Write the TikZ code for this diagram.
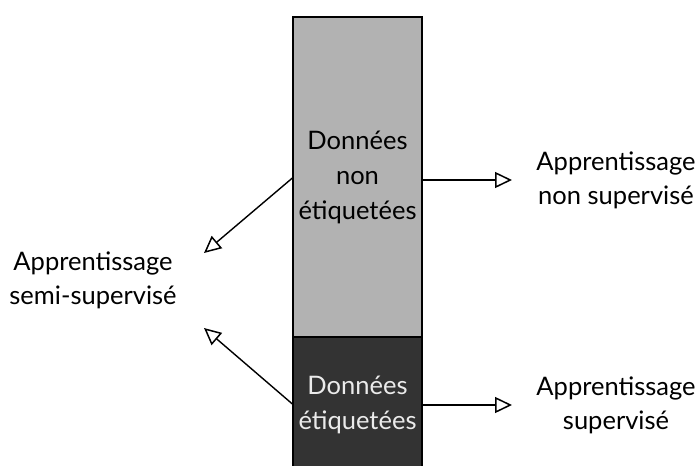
\documentclass[tikz,border=0pt]{standalone}
\usepackage{fontspec}
\setmainfont{Lato}
\usetikzlibrary{arrows.meta}
\begin{document}
\begin{tikzpicture}[x=1pt,y=-1pt,
  databox/.style={draw=black, line width=1.2pt, minimum width=129pt, inner sep=0pt, align=center, font=\fontsize{25.5}{35}\selectfont},
  lbl/.style={align=center, inner sep=0pt, font=\fontsize{25.5}{34}\selectfont},
  link/.style={line width=1.4pt, -{Triangle[open, length=17pt, width=16pt, line width=1.5pt]}}]
  \useasboundingbox (0,0) rectangle (699,466);
  % the two stacked data blocks
  \node[databox, fill=black!30, minimum height=320pt] (unl) at (357.5,177) {Données\\non\\étiquetées};
  \node[databox, fill=black!80, text=white!92!black, minimum height=136pt] (lab) at (357.5,405) {Données\\étiquetées};
  % learning paradigms
  \node[lbl] (uns) at (616,180) {Apprentissage\\non supervisé};
  \node[lbl] (sup) at (616,405) {Apprentissage\\supervisé};
  \node[lbl] (semi) at (93,280) {Apprentissage\\semi-supervisé};
  % arrow tips
  \coordinate (tu) at (512,180);
  \coordinate (ts) at (512,405);
  \coordinate (t1) at (204,253);
  \coordinate (t2) at (204,328);
  \draw[link] (unl.east |- tu) -- (tu);
  \draw[link] (lab.east |- ts) -- (ts);
  \draw[link] (unl.west |- 0,178) -- (t1);
  \draw[link] (lab.west |- 0,404) -- (t2);
\end{tikzpicture}
\end{document}
